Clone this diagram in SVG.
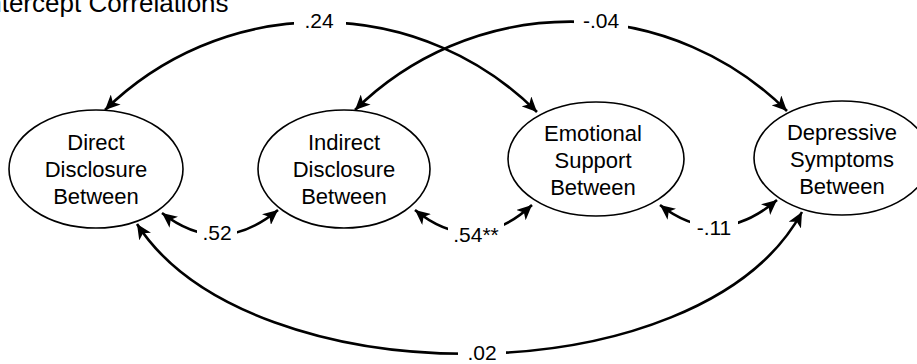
<svg xmlns="http://www.w3.org/2000/svg" width="917" height="364" viewBox="0 0 917 364">
<defs>
<style>
.node{fill:#fff;stroke:#000;stroke-width:1.6}
.nt{font-family:"Liberation Sans",Arial,sans-serif;font-size:22px;fill:#000;text-anchor:middle}
.lbl{font-family:"Liberation Sans",Arial,sans-serif;font-size:21px;fill:#000;text-anchor:middle}
.con{fill:none;stroke:#000;stroke-width:2.6;marker-start:url(#ah);marker-end:url(#ah)}
.gap{fill:#fff;stroke:none}
</style>
<marker id="ah" markerUnits="userSpaceOnUse" markerWidth="16" markerHeight="14" refX="15" refY="7" orient="auto-start-reverse">
<path d="M0,0 L15,7 L0,14 L4,7 z" fill="#000"/>
</marker>
</defs>
<rect width="917" height="364" fill="#fff"/>
<text x="-20" y="12" font-family="Liberation Sans, Arial, sans-serif" font-size="26" fill="#000">Intercept Correlations</text>
<g id="connectors">
<path class="con" d="M105,110 A307,307 0 0 1 537,112"/>
<path class="con" d="M355,110 A307,307 0 0 1 787,111"/>
<path class="con" d="M162,213 Q220,258 278,210"/>
<path class="con" d="M415,210 Q474,258 532,205"/>
<path class="con" d="M660,205 Q718,250 777,200"/>
<path class="con" d="M137,224 C250,399 700,399 802,212"/>
<rect class="gap" x="294" y="8" width="52" height="26"/>
<text class="lbl" x="319" y="28">.24</text>
<rect class="gap" x="574" y="8" width="54" height="26"/>
<text class="lbl" x="601" y="28">-.04</text>
<rect class="gap" x="197" y="220" width="40" height="26"/>
<text class="lbl" x="217" y="240">.52</text>
<rect class="gap" x="448" y="222" width="56" height="26"/>
<text class="lbl" x="476" y="242">.54**</text>
<rect class="gap" x="690" y="216" width="48" height="26"/>
<text class="lbl" x="714" y="235">-.11</text>
<rect class="gap" x="458" y="340" width="48" height="24"/>
<text class="lbl" x="482" y="360">.02</text>
</g>
<g id="direct">
<ellipse class="node" cx="96" cy="169" rx="87" ry="59"/>
<text class="nt" x="96" y="150">Direct</text>
<text class="nt" x="96" y="177">Disclosure</text>
<text class="nt" x="96" y="204">Between</text>
</g>
<g id="indirect">
<ellipse class="node" cx="344" cy="169" rx="86" ry="59"/>
<text class="nt" x="344" y="150">Indirect</text>
<text class="nt" x="344" y="177">Disclosure</text>
<text class="nt" x="344" y="204">Between</text>
</g>
<g id="emotional">
<ellipse class="node" cx="596" cy="159" rx="88" ry="57"/>
<text class="nt" x="593" y="141">Emotional</text>
<text class="nt" x="593" y="168">Support</text>
<text class="nt" x="593" y="195">Between</text>
</g>
<g id="depressive">
<ellipse class="node" cx="842" cy="158" rx="88" ry="57"/>
<text class="nt" x="842" y="140">Depressive</text>
<text class="nt" x="842" y="167">Symptoms</text>
<text class="nt" x="842" y="194">Between</text>
</g>
</svg>
